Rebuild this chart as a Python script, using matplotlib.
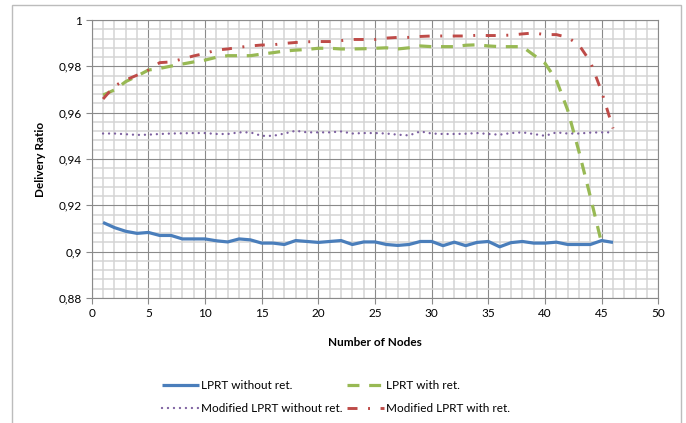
import numpy as np
import matplotlib.pyplot as plt
from matplotlib.ticker import MultipleLocator, FuncFormatter
from matplotlib.patches import Rectangle

plt.rcParams['font.family'] = ['Lato', 'DejaVu Sans']
plt.rcParams['lines.scale_dashes'] = False

nodes = list(range(1, 47))

lprt_no_ret = [0.9126, 0.9104, 0.9088, 0.9079, 0.9083, 0.9070, 0.9070, 0.9055, 0.9055, 0.9055,
               0.9047, 0.9042, 0.9055, 0.9051, 0.9037, 0.9037, 0.9031, 0.9048, 0.9044, 0.9040,
               0.9044, 0.9048, 0.9031, 0.9042, 0.9042, 0.9031, 0.9027, 0.9031, 0.9044, 0.9044,
               0.9026, 0.9041, 0.9026, 0.9040, 0.9044, 0.9021, 0.9039, 0.9044, 0.9037, 0.9037,
               0.9041, 0.9031, 0.9031, 0.9031, 0.9048, 0.9040]

lprt_ret = [0.9676, 0.9698, 0.9734, 0.9758, 0.9784, 0.9791, 0.9801, 0.9810, 0.9819, 0.9827,
            0.9839, 0.9846, 0.9846, 0.9846, 0.9853, 0.9859, 0.9866, 0.9870, 0.9873, 0.9878,
            0.9878, 0.9875, 0.9875, 0.9876, 0.9878, 0.9880, 0.9875, 0.9880, 0.9888, 0.9885,
            0.9885, 0.9885, 0.9891, 0.9893, 0.9888, 0.9885, 0.9885, 0.9885, 0.9849, 0.9813,
            0.9741, 0.9611, 0.9431, 0.9237, 0.9035]

mod_no_ret = [0.9510, 0.9510, 0.9507, 0.9504, 0.9505, 0.9508, 0.9510, 0.9511, 0.9512, 0.9512,
              0.9508, 0.9508, 0.9515, 0.9515, 0.9500, 0.9500, 0.9510, 0.9522, 0.9515, 0.9515,
              0.9515, 0.9519, 0.9510, 0.9512, 0.9512, 0.9510, 0.9505, 0.9502, 0.9519, 0.9510,
              0.9508, 0.9508, 0.9509, 0.9512, 0.9508, 0.9505, 0.9512, 0.9515, 0.9508, 0.9500,
              0.9515, 0.9510, 0.9510, 0.9514, 0.9515, 0.9515]

mod_ret = [0.9659, 0.9715, 0.9741, 0.9762, 0.9784, 0.9816, 0.9819, 0.9832, 0.9845, 0.9856,
           0.9870, 0.9875, 0.9882, 0.9888, 0.9892, 0.9893, 0.9899, 0.9903, 0.9906, 0.9907,
           0.9907, 0.9911, 0.9916, 0.9916, 0.9916, 0.9922, 0.9925, 0.9925, 0.9929, 0.9931,
           0.9931, 0.9931, 0.9931, 0.9934, 0.9933, 0.9933, 0.9935, 0.9940, 0.9944, 0.9937,
           0.9937, 0.9925, 0.9892, 0.9820, 0.9690, 0.9532]

fig = plt.figure(figsize=(6.86, 4.23), dpi=100)
ax = fig.add_axes([0.1337, 0.2955, 0.8260, 0.6572])

l1, = ax.plot(nodes, lprt_no_ret, color='#4a7ebb', lw=2.3, solid_capstyle='butt',
              label='LPRT without ret.')
l2, = ax.plot(nodes[:len(lprt_ret)], lprt_ret, color='#98b954', lw=2.3,
              dashes=(8.6, 7.0), dash_capstyle='butt', label='LPRT with ret.')
l3, = ax.plot(nodes, mod_no_ret, color='#7d60a0', lw=1.7,
              dashes=(0.01, 4.3), dash_capstyle='round', label='Modified LPRT without ret.')
l4, = ax.plot(nodes, mod_ret, color='#be4b48', lw=2.1,
              dashes=(7.2, 7.6, 1.4, 7.6), dash_capstyle='butt', label='Modified LPRT with ret.')

ax.set_xlim(0, 50)
ax.set_ylim(0.88, 1.0)
ax.xaxis.set_major_locator(MultipleLocator(5))
ax.xaxis.set_minor_locator(MultipleLocator(1))
ax.yaxis.set_major_locator(MultipleLocator(0.02))
ax.yaxis.set_minor_locator(MultipleLocator(0.004))
ax.yaxis.set_major_formatter(FuncFormatter(lambda v, p: ('%g' % round(v, 3)).replace('.', ',')))

ax.grid(which='minor', color='#d4d4d4', lw=1.1)
ax.grid(which='major', color='#8a8a8a', lw=0.8)
ax.set_axisbelow(True)
for s in ax.spines.values():
    s.set_color('#8a8a8a')
    s.set_linewidth(0.8)
ax.tick_params(which='major', length=4, color='#8a8a8a', labelsize=8.5, pad=3)
ax.tick_params(which='minor', length=0)

ax.set_xlabel('Number of Nodes', fontsize=8.5, fontweight='bold', labelpad=13)
ax.set_ylabel('Delivery Ratio', fontsize=8.5, fontweight='bold', labelpad=9)

# column-major fill, so order gives rows: (l1, l2), (l3, l4)
fig.legend([l1, l3, l2, l4], [l.get_label() for l in (l1, l3, l2, l4)],
           loc='center', bbox_to_anchor=(0.490, 0.062), ncol=2, frameon=False,
           fontsize=8.5, handlelength=3.1, handletextpad=0.2, columnspacing=0.4,
           labelspacing=1.0)

fig.patches.append(Rectangle((12 / 686, -0.1), 669 / 686, 1.1 - 5 / 423,
                             transform=fig.transFigure, fill=False,
                             edgecolor='#bcbcbc', lw=1.0))

fig.savefig('out.png', dpi=100)
